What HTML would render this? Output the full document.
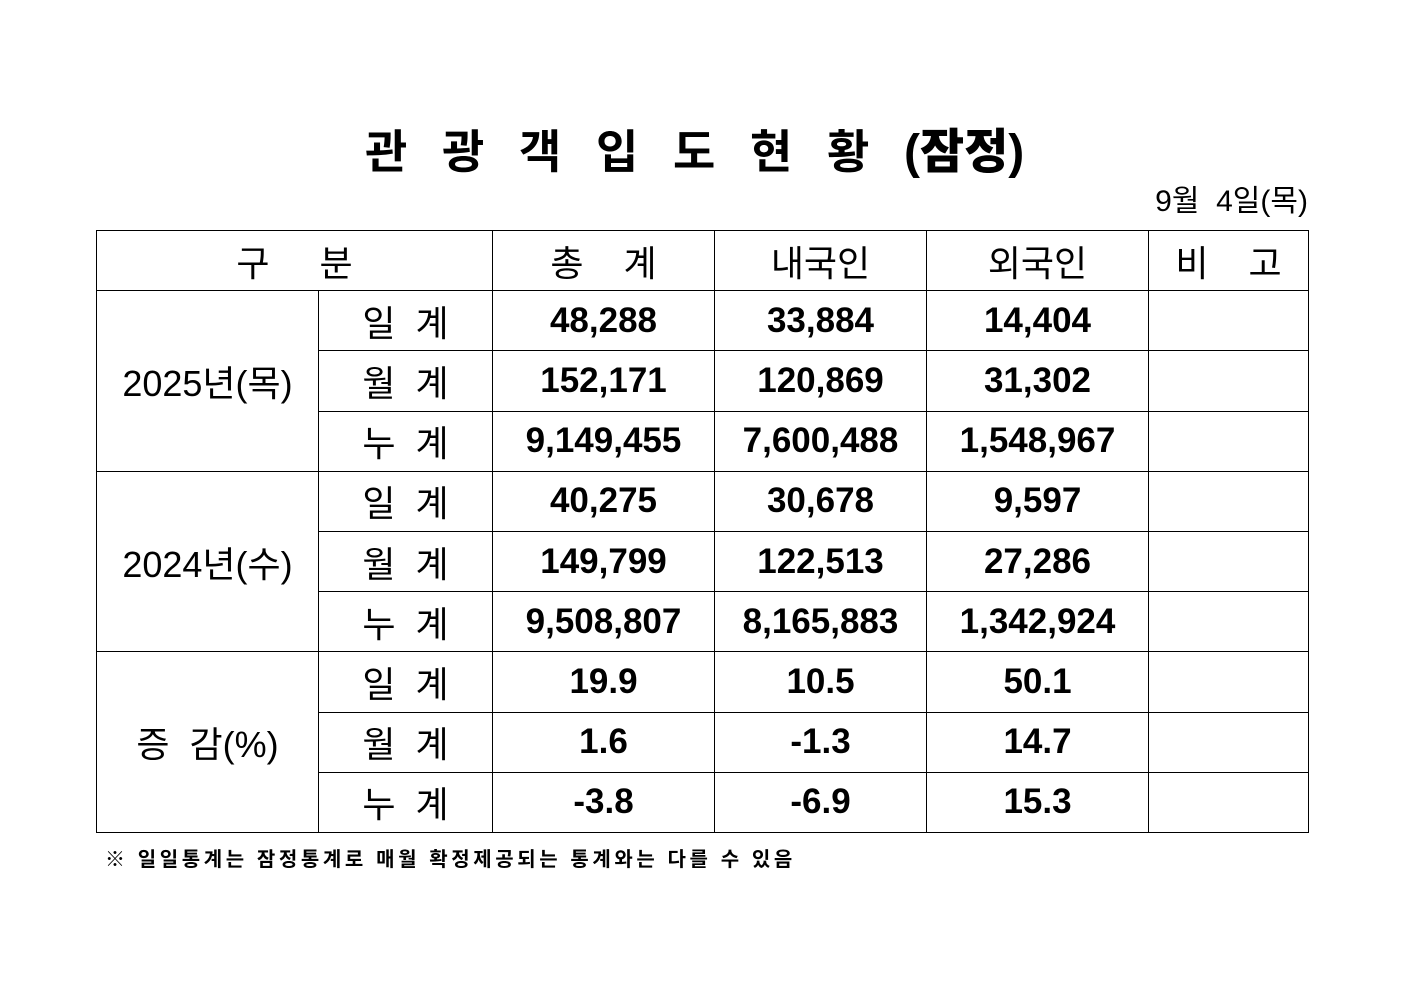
<!DOCTYPE html>
<html><head><meta charset="utf-8"><style>
body{margin:0;width:1403px;height:992px;background:#fff;position:relative;font-family:"Liberation Sans","Noto Sans CJK KR","NanumGothic",sans-serif;color:#000}
.t{position:absolute;left:365px;top:112px;font-size:46px;font-weight:bold;white-space:nowrap}
.t span{display:inline-block;width:77px}
.t b{font-size:48px}
.d{position:absolute;right:95px;top:176px;font-size:30px}
table{position:absolute;left:96px;top:230px;border-collapse:collapse;table-layout:fixed}
td{border:1.3px solid #000;text-align:center;padding:0;height:59px;font-size:36px}
tr{height:60.2px}
td.n{font-weight:bold;font-size:35px}
td.y{font-size:36px}
.f{position:absolute;left:105px;top:843px;font-size:20px;font-weight:bold;letter-spacing:3.6px;white-space:nowrap}
</style></head><body>
<div class="t"><span>관</span><span>광</span><span>객</span><span>입</span><span>도</span><span>현</span><span>황</span><b>(잠정)</b></div>
<div class="d">9월&nbsp;&nbsp;4일(목)</div>
<table>
<colgroup><col style="width:222px"><col style="width:174px"><col style="width:222px"><col style="width:212px"><col style="width:222px"><col style="width:160px"></colgroup>
<tr><td colspan="2">구&nbsp;&nbsp;&nbsp;&nbsp;&nbsp;분</td><td>총&nbsp;&nbsp;&nbsp;&nbsp;계</td><td>내국인</td><td>외국인</td><td>비&nbsp;&nbsp;&nbsp;&nbsp;고</td></tr>
<tr><td rowspan="3" class="y">2025년(목)</td><td>일&nbsp;&nbsp;계</td><td class="n">48,288</td><td class="n">33,884</td><td class="n">14,404</td><td></td></tr>
<tr><td>월&nbsp;&nbsp;계</td><td class="n">152,171</td><td class="n">120,869</td><td class="n">31,302</td><td></td></tr>
<tr><td>누&nbsp;&nbsp;계</td><td class="n">9,149,455</td><td class="n">7,600,488</td><td class="n">1,548,967</td><td></td></tr>
<tr><td rowspan="3" class="y">2024년(수)</td><td>일&nbsp;&nbsp;계</td><td class="n">40,275</td><td class="n">30,678</td><td class="n">9,597</td><td></td></tr>
<tr><td>월&nbsp;&nbsp;계</td><td class="n">149,799</td><td class="n">122,513</td><td class="n">27,286</td><td></td></tr>
<tr><td>누&nbsp;&nbsp;계</td><td class="n">9,508,807</td><td class="n">8,165,883</td><td class="n">1,342,924</td><td></td></tr>
<tr><td rowspan="3" class="y">증&nbsp;&nbsp;감(%)</td><td>일&nbsp;&nbsp;계</td><td class="n">19.9</td><td class="n">10.5</td><td class="n">50.1</td><td></td></tr>
<tr><td>월&nbsp;&nbsp;계</td><td class="n">1.6</td><td class="n">-1.3</td><td class="n">14.7</td><td></td></tr>
<tr><td>누&nbsp;&nbsp;계</td><td class="n">-3.8</td><td class="n">-6.9</td><td class="n">15.3</td><td></td></tr>
</table>
<div class="f">※ 일일통계는 잠정통계로 매월 확정제공되는 통계와는 다를 수 있음</div>
</body></html>
